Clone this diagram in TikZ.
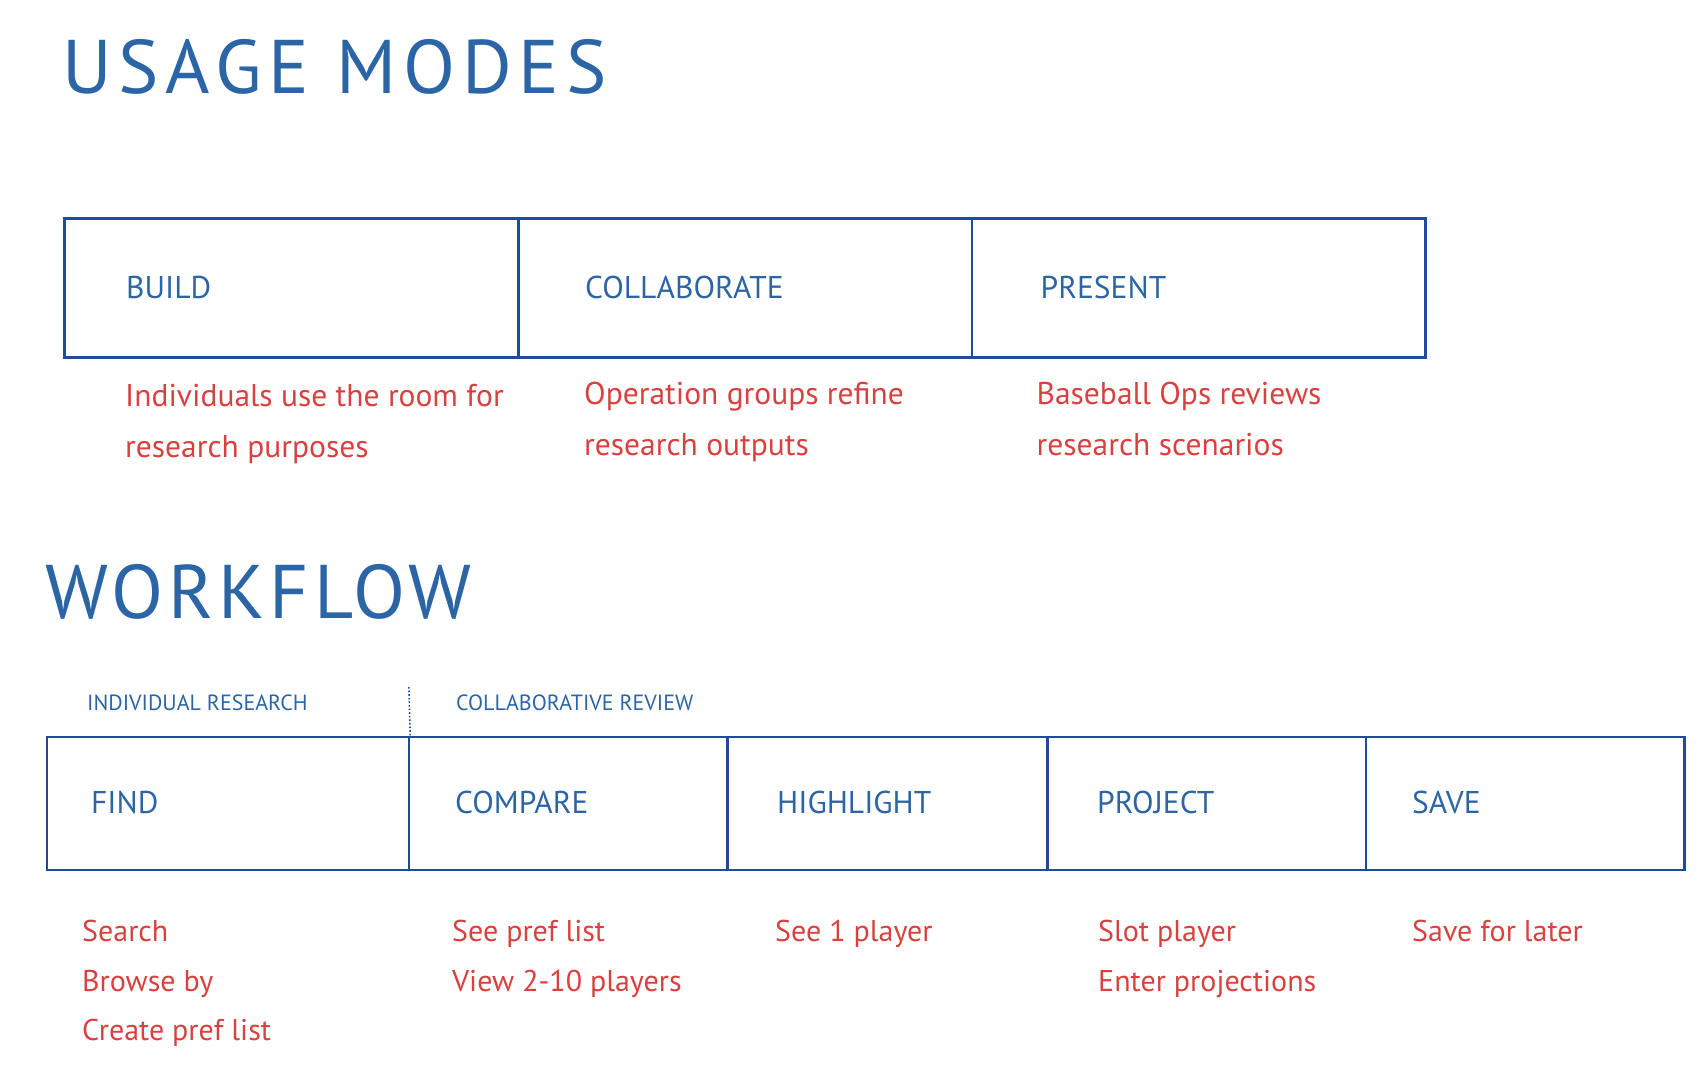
\documentclass[tikz,border=0pt]{standalone}
\usepackage{fontspec}
\setmainfont{PT Sans}
\newfontfamily\titlefont[LetterSpace=9]{PT Sans}
\newfontfamily\titlefontb[LetterSpace=6.5]{PT Sans}
\definecolor{tblue}{HTML}{2B65A5}
\definecolor{lblue}{HTML}{1E4C9A}
\definecolor{tred}{HTML}{D8413F}
\tikzset{
  box/.style={draw=lblue, line width=2.6pt, inner sep=0pt},
  ttl/.style={anchor=base west, inner sep=0pt, text=tblue, font=\titlefont\fontsize{76}{80}\selectfont},
  ttlb/.style={anchor=base west, inner sep=0pt, text=tblue, font=\titlefontb\fontsize{76}{80}\selectfont},
  lbl/.style={anchor=base west, inner sep=0pt, text=tblue, font=\fontsize{31.5}{36}\selectfont},
  sub/.style={anchor=base west, inner sep=0pt, text=tblue, font=\fontsize{22}{26}\selectfont},
  desc/.style={anchor=base west, inner sep=0pt, text=tred, font=\fontsize{30}{36}\selectfont},
  desct/.style={desc, font=\fontsize{31.5}{36}\selectfont},
}
\begin{document}
\begin{tikzpicture}[x=1pt,y=-1pt]
\useasboundingbox (0,0) rectangle (1705,1084);
% titles
\node[ttl] (t1) at (62,93) {USAGE MODES};
\node[ttlb] (t2) at (45,618) {WORKFLOW};
% usage mode boxes
\node[box, minimum width=454.5pt, minimum height=139pt] (bbuild) at (291.45,288.2) {};
\node[box, minimum width=453.4pt, minimum height=139pt] (bcoll) at (745.4,288.2) {};
\node[box, minimum width=453.5pt, minimum height=139pt] (bpres) at (1198.85,288.2) {};
\node[lbl] (lbuild) at (126,298) {BUILD};
\node[lbl] (lcoll) at (585,298) {COLLABORATE};
\node[lbl] (lpres) at (1040.5,298) {PRESENT};
\node[desct] (d1a) at (125,406) {Individuals use the room for};
\node[desct] (d1b) at (125,457) {research purposes};
\node[desct] (d2a) at (584,404) {Operation groups refine};
\node[desct] (d2b) at (584,455) {research outputs};
\node[desct] (d3a) at (1036.5,404) {Baseball Ops reviews};
\node[desct] (d3b) at (1036.5,455) {research scenarios};
% workflow
\node[sub] (sind) at (87,710) {INDIVIDUAL RESEARCH};
\node[sub] (scol) at (456,710) {COLLABORATIVE REVIEW};
\coordinate (dtop) at (408.9,687);
\node[box, minimum width=362.1pt, minimum height=133pt] (bfind) at (227.85,803.5) {};
\node[box, minimum width=318.6pt, minimum height=133pt] (bcomp) at (568.2,803.5) {};
\node[box, minimum width=319.7pt, minimum height=133pt] (bhigh) at (887.35,803.5) {};
\node[box, minimum width=318.6pt, minimum height=133pt] (bproj) at (1206.5,803.5) {};
\node[box, minimum width=318.6pt, minimum height=133pt] (bsave) at (1525.1,803.5) {};
\draw[lblue, line width=1.6pt, dotted] (dtop) -- (bfind.north east);
\node[lbl] (lfind) at (91,813) {FIND};
\node[lbl] (lcomp) at (455,813) {COMPARE};
\node[lbl] (lhigh) at (777,813) {HIGHLIGHT};
\node[lbl] (lproj) at (1097,813) {PROJECT};
\node[lbl] (lsave) at (1412,813) {SAVE};
\node[desc] (f1) at (82,941) {Search};
\node[desc] (f2) at (82,991) {Browse by};
\node[desc] (f3) at (82,1040) {Create pref list};
\node[desc] (c1) at (452,941) {See pref list};
\node[desc] (c2) at (452,991) {View 2-10 players};
\node[desc] (h1) at (775,941) {See 1 player};
\node[desc] (p1) at (1098,941) {Slot player};
\node[desc] (p2) at (1098,991) {Enter projections};
\node[desc] (s1) at (1412,941) {Save for later};
\end{tikzpicture}
\end{document}
